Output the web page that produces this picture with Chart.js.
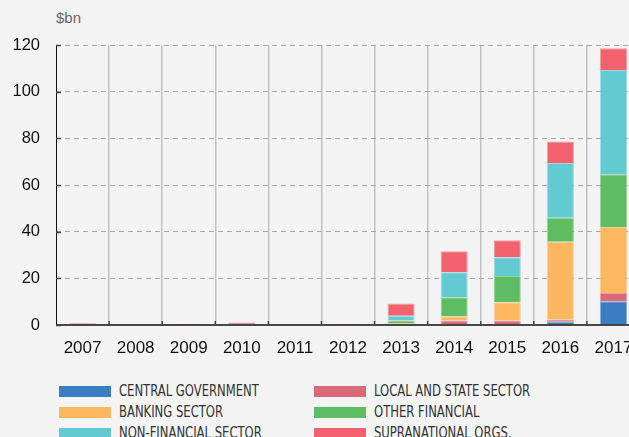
<!DOCTYPE html>
<html>
<head>
<meta charset="utf-8">
<script src="https://cdn.jsdelivr.net/npm/chart.js@4/dist/chart.umd.min.js"></script>
<style>
    html, body { margin: 0; padding: 0; background: #f4f4f4; overflow: hidden; }
    body { width: 629px; height: 437px; position: relative; }
    #wrap { position: absolute; left: 0; top: 0; width: 660px; height: 370px; }
    #unit { position: absolute; left: 56px; top: 9px; font: 15px "Liberation Sans", Arial, sans-serif; color: #666; }
    #legend { position: absolute; left: 59px; top: 383px; display: grid; grid-template-columns: 255px 255px; row-gap: 5px; }
    .item { display: flex; align-items: center; height: 16px; }
    .swatch { width: 52px; height: 11px; margin-right: 8px; flex: none; }
    .label { font: 15px "DejaVu Sans Condensed", "DejaVu Sans", sans-serif; color: #333; white-space: nowrap;
             display: inline-block; transform: scaleX(0.86); transform-origin: left center; }
</style>
</head>
<body>
<div id="unit">$bn</div>
<div id="wrap"><canvas id="chart"></canvas></div>
<div id="legend"></div>
<script>
// Categories and series ($bn)
const years = ['2007', '2008', '2009', '2010', '2011', '2012', '2013', '2014', '2015', '2016', '2017'];
const centralGov = [0, 0, 0, 0, 0, 0, 0, 0, 0, 1.4, 10.2];
const localState = [0, 0, 0, 0, 0, 0, 0.3, 1.9, 1.9, 1.0, 3.5];
const banking = [0, 0, 0, 0, 0, 0, 0.6, 1.7, 7.8, 33.3, 28.3];
const otherFinancial = [0, 0, 0, 0, 0, 0, 1.0, 8.3, 11.3, 10.3, 22.6];
const nonFinancial = [0, 0, 0, 0, 0, 0, 2.1, 10.7, 8.0, 23.4, 44.7];
const supranational = [0.8, 0.3, 0.4, 1.1, 0.2, 0.4, 5.2, 9.0, 7.3, 9.2, 9.3];
const yTicks = [0, 20, 40, 60, 80, 100, 120];

const series = [
    { label: 'CENTRAL GOVERNMENT', data: centralGov, color: '#3b7dc1' },
    { label: 'LOCAL AND STATE SECTOR', data: localState, color: '#da6977' },
    { label: 'BANKING SECTOR', data: banking, color: '#fdb75f' },
    { label: 'OTHER FINANCIAL', data: otherFinancial, color: '#5ebd63' },
    { label: 'NON-FINANCIAL SECTOR', data: nonFinancial, color: '#63cad2' },
    { label: 'SUPRANATIONAL ORGS.', data: supranational, color: '#f3616f' }
];

document.getElementById('legend').innerHTML = series.map(s => `
    <div class="item">
        <div class="swatch" style="background:${s.color}"></div>
        <span class="label">${s.label}</span>
    </div>`).join('');

// Axis lines plus the small inward tick marks
const axisLines = {
    id: 'axisLines',
    afterDraw(chart) {
        const { ctx, chartArea, scales } = chart;
        ctx.save();
        ctx.strokeStyle = '#111';
        ctx.lineWidth = 1;
        ctx.beginPath();
        ctx.moveTo(chartArea.left + 0.5, chartArea.top);
        ctx.lineTo(chartArea.left + 0.5, chartArea.bottom);
        ctx.stroke();
        ctx.lineWidth = 1.5;
        ctx.beginPath();
        ctx.moveTo(chartArea.left, chartArea.bottom);
        ctx.lineTo(chartArea.right, chartArea.bottom);
        ctx.stroke();

        ctx.strokeStyle = '#444';
        yTicks.forEach(v => {
            const y = Math.round(scales.y.getPixelForValue(v)) + 0.5;
            ctx.beginPath();
            ctx.moveTo(chartArea.left, y);
            ctx.lineTo(chartArea.left + 5, y);
            ctx.stroke();
        });
        const step = scales.x.width / years.length;
        for (let i = 1; i <= years.length; i++) {
            const x = scales.x.getPixelForValue(i) - step / 2;
            ctx.beginPath();
            ctx.moveTo(x, chartArea.bottom);
            ctx.lineTo(x, chartArea.bottom - 4);
            ctx.stroke();
        }
        ctx.restore();
    }
};

new Chart(document.getElementById('chart'), {
    type: 'bar',
    data: {
        labels: years,
        datasets: series.map(s => ({
            label: s.label,
            data: s.data,
            backgroundColor: s.color,
            borderColor: s.color + '99',
            borderWidth: 1,
            barPercentage: 0.51,
            categoryPercentage: 1
        }))
    },
    options: {
        responsive: true,
        maintainAspectRatio: false,
        animation: false,
        layout: { padding: { top: 45, right: 20, left: 0, bottom: 0 } },
        plugins: { legend: { display: false }, tooltip: { enabled: false } },
        scales: {
            x: {
                stacked: true,
                afterFit: scale => { scale.height = 45; },
                grid: {
                    offset: true,
                    color: ctx => ctx.index === 0 ? 'rgba(0,0,0,0)' : '#c2c2c2',
                    lineWidth: 1.5,
                    drawTicks: false
                },
                border: { display: false, dash: [] },
                ticks: { color: '#111', padding: 13, font: { family: 'Liberation Sans', size: 17 } }
            },
            y: {
                stacked: true,
                min: 0,
                max: 120,
                afterFit: scale => { scale.width = 56; },
                afterBuildTicks: scale => { scale.ticks = yTicks.map(v => ({ value: v })); },
                grid: {
                    color: ctx => ctx.tick && ctx.tick.value === 0 ? 'rgba(0,0,0,0)' : '#a8a8a8',
                    lineWidth: 1,
                    drawTicks: false
                },
                border: { display: false, dash: [5, 4] },
                ticks: { color: '#111', padding: 16, font: { family: 'Liberation Sans', size: 16.5 } }
            }
        }
    },
    plugins: [axisLines]
});
</script>
</body>
</html>
